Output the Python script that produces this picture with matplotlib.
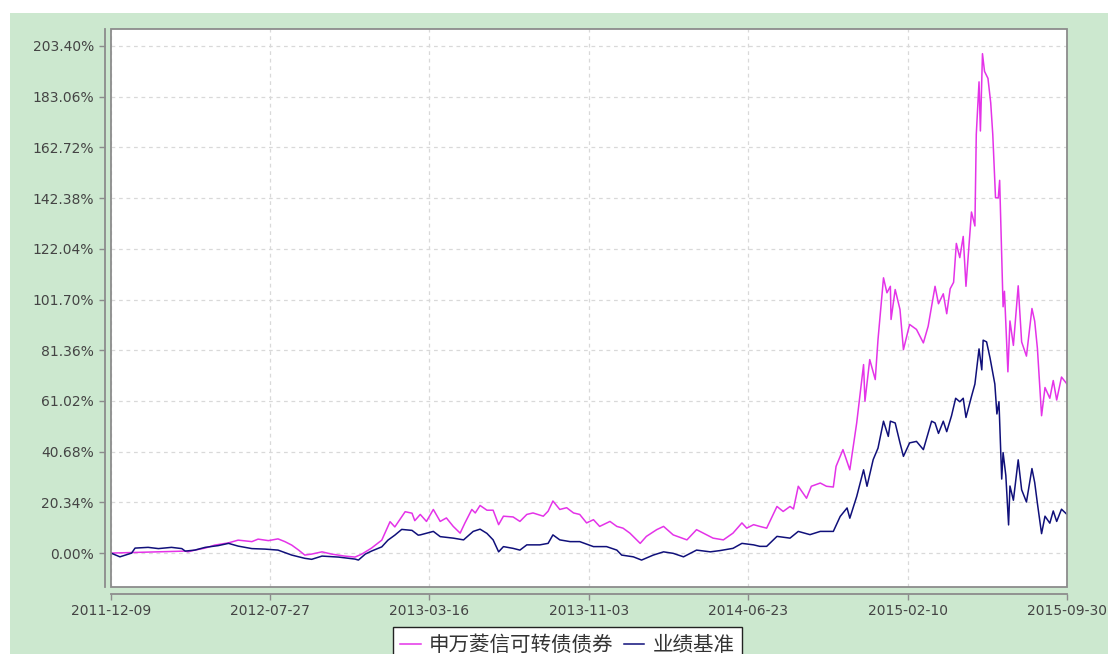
import numpy as np
import matplotlib.pyplot as plt
import matplotlib.dates as mdates
from matplotlib.patches import Rectangle

start = np.datetime64('2011-12-09')
end = np.datetime64('2015-09-30')

xtick_labels = ['2011-12-09', '2012-07-27', '2013-03-16', '2013-11-03',
                '2014-06-23', '2015-02-10', '2015-09-30']
ytick_vals = [0.00, 20.34, 40.68, 61.02, 81.36, 101.70,
              122.04, 142.38, 162.72, 183.06, 203.40]

series_names = ['申万菱信可转债债券', '业绩基准']

# fund: days after 2011-12-09, cumulative return (%)
fund_days = [0, 108, 112, 122, 137, 151, 171, 185, 205, 214, 229, 243, 253, 263, 273,
             282, 292, 307, 321, 340, 355, 365, 379, 394, 406, 413, 428, 438, 442,
             450, 459, 469, 479, 488, 498, 508, 515, 525, 530, 537, 547, 556, 564,
             571, 585, 595, 605, 614, 629, 636, 643, 653, 663, 673, 682, 692, 702,
             711, 726, 736, 745, 755, 770, 779, 794, 804, 818, 838, 852, 867, 876,
             891, 905, 918, 925, 935, 944, 954, 969, 978, 988, 993, 1000, 1012, 1019,
             1032, 1041, 1051, 1055, 1065, 1075, 1085, 1095, 1097, 1104, 1112, 1116,
             1124, 1129, 1134, 1135, 1141, 1148, 1153, 1162, 1172, 1182, 1189, 1199,
             1204, 1211, 1216, 1221, 1226, 1230, 1235, 1240, 1244, 1247, 1252, 1257,
             1259, 1263, 1265, 1268, 1271, 1276, 1280, 1283, 1287, 1291, 1293, 1296,
             1298, 1300, 1305, 1308, 1313, 1320, 1325, 1332, 1340, 1344, 1348, 1354,
             1359, 1366, 1371, 1376, 1383, 1391]
fund_vals = [0.0, 0.8, 0.5, 1.2, 2.0, 3.2, 4.1, 5.2, 4.6, 5.6, 5.0, 5.7, 4.6, 3.2, 1.2,
             -0.8, -0.4, 0.5, -0.4, -1.2, -1.6, -0.4, 2.0, 5.2, 12.6, 10.5, 16.6, 16.0, 13.0,
             15.5, 12.7, 17.5, 12.7, 14.1, 10.7, 8.0, 12.1, 17.5, 16.1, 19.1, 17.2, 17.2, 11.4,
             14.8, 14.5, 12.7, 15.5, 16.1, 14.8, 16.8, 20.9, 17.5, 18.2, 16.1, 15.5, 12.1, 13.4,
             10.7, 12.7, 10.7, 10.0, 8.0, 3.9, 6.7, 9.4, 10.7, 7.3, 5.3, 9.4, 7.3, 6.0,
             5.3, 8.0, 12.1, 10.0, 11.4, 10.7, 10.0, 18.7, 16.7, 18.7, 17.7, 26.8, 22.0, 26.8,
             28.1, 26.8, 26.5, 34.8, 41.5, 33.4, 52.2, 75.6, 60.9, 77.6, 69.6, 85.6,
             110.4, 104.4, 107.0, 93.7, 105.7, 97.7, 81.6, 91.7, 89.7, 84.3, 91.0, 107.0,
             100.0, 104.0, 96.0, 106.0, 108.6, 124.2, 118.5, 127.0, 107.0, 118.0, 136.8, 131.2,
             167.9, 189.0, 169.3, 200.3, 193.2, 190.4, 180.6, 167.9, 142.5, 142.5, 149.5, 120.0,
             98.8, 105.0, 72.7, 93.1, 83.3, 107.2, 84.7, 79.0, 98.1, 93.0, 81.9, 55.1,
             66.4, 62.1, 69.2, 61.4, 70.6, 67.8]

# benchmark
bench_days = [0, 13, 30, 35, 54, 69, 88, 103, 108, 122, 137, 156, 171, 185, 205, 224,
              243, 263, 282, 292, 307, 331, 355, 360, 370, 379, 394, 403, 413, 423, 438,
              447, 450, 469, 479, 498, 513, 527, 537, 547, 556, 564, 571, 585, 595, 605,
              624, 636, 643, 653, 668, 682, 702, 721, 736, 743, 760, 772, 789, 804, 818,
              833, 852, 872, 886, 905, 918, 935, 944, 954, 969, 988, 1000, 1017, 1032,
              1051, 1061, 1071, 1075, 1085, 1095, 1100, 1109, 1116, 1124, 1131, 1134,
              1141, 1148, 1153, 1162, 1172, 1182, 1194, 1199, 1204, 1211, 1216, 1223,
              1229, 1235, 1240, 1244, 1252, 1257, 1263, 1267, 1269, 1274, 1279, 1286,
              1289, 1292, 1296, 1298, 1302, 1306, 1308, 1313, 1320, 1325, 1332, 1340,
              1344, 1348, 1354, 1359, 1366, 1371, 1376, 1383, 1391]
bench_vals = [0.0, -1.5, 0.0, 2.0, 2.3, 1.8, 2.3, 1.8, 0.8, 1.2, 2.3, 3.0, 3.9, 2.8, 1.8, 1.6,
              1.2, -0.8, -2.1, -2.5, -1.2, -1.6, -2.4, -2.8, -0.4, 0.8, 2.5, 5.2, 7.2, 9.5, 9.1,
              7.2, 7.3, 8.7, 6.6, 6.0, 5.3, 8.7, 9.6, 7.9, 5.3, 0.5, 2.6, 1.9, 1.2, 3.3,
              3.3, 3.9, 7.3, 5.3, 4.6, 4.6, 2.6, 2.6, 1.2, -0.8, -1.5, -2.8, -0.8, 0.5, -0.1,
              -1.5, 1.2, 0.5, 1.0, 1.9, 3.9, 3.3, 2.7, 2.7, 6.7, 6.0, 8.7, 7.4, 8.7,
              8.7, 14.7, 18.1, 14.0, 22.7, 33.4, 26.8, 37.5, 42.1, 52.9, 46.8, 52.9,
              52.2, 44.2, 38.8, 44.2, 44.8, 41.5, 52.9, 52.2, 48.0, 52.9, 48.7, 55.1,
              62.1, 60.7, 62.1, 54.4, 62.8, 67.8, 81.9, 73.5, 85.4, 84.7, 78.3, 67.8,
              55.8, 60.7, 29.7, 40.3, 31.1, 11.3, 26.9, 21.2, 37.4, 25.4, 20.5, 33.9,
              28.3, 19.8, 7.8, 14.8, 12.0, 16.9, 12.7, 17.6, 15.5]

fund_dates = start + np.array(fund_days, dtype='timedelta64[D]')
bench_dates = start + np.array(bench_days, dtype='timedelta64[D]')

W, H = 1108, 654
fig = plt.figure(figsize=(W / 100, H / 100), dpi=100)
fig.patch.set_facecolor('white')
fig.patches.append(Rectangle((10 / W, 0), 1, 1 - 13 / H, transform=fig.transFigure,
                             facecolor='#cce8cf', edgecolor='none', zorder=-10))

ax = fig.add_axes([111 / W, 1 - 587 / H, 956 / W, 558 / H])
ax.set_facecolor('white')

ax.plot(fund_dates, fund_vals, color='#e433e8', lw=1.1, label=series_names[0], zorder=3)
ax.plot(bench_dates, bench_vals, color='#10107a', lw=1.1, label=series_names[1], zorder=4)

ax.set_xlim(start, end)
ax.set_ylim(-13.6, 210.2)

ax.set_xticks([np.datetime64(d) for d in xtick_labels])
ax.xaxis.set_major_formatter(mdates.DateFormatter('%Y-%m-%d'))
ax.set_yticks(ytick_vals)
ax.set_yticklabels([f'{v:.2f}%' for v in ytick_vals])

ax.grid(True, color='#d9d9d9', linestyle=(0, (3, 3)), lw=0.9)
ax.set_axisbelow(True)

# offset axis lines + plot frame
for s in ['top', 'right']:
    ax.spines[s].set_visible(False)
ax.spines['left'].set_position(('outward', 4.3))
ax.spines['bottom'].set_position(('outward', 5))
for s in ['left', 'bottom']:
    ax.spines[s].set_color('#8c8c8c')
    ax.spines[s].set_linewidth(1.3)
ax.add_patch(Rectangle((0, 0), 1, 1, transform=ax.transAxes, fill=False,
                       edgecolor='#8c8c8c', lw=1.3, clip_on=False, zorder=5))

ax.tick_params(axis='both', colors='#8c8c8c', labelcolor='#444444',
               labelsize=10, length=4, width=1)
ax.tick_params(axis='y', pad=4)
ax.tick_params(axis='x', pad=3)

leg = ax.legend(loc='upper left', bbox_to_anchor=(393 / W, 1 - 627 / H),
                bbox_transform=fig.transFigure, ncol=2, frameon=True, fancybox=False,
                framealpha=1, facecolor='white',
                prop={'family': ['Noto Sans CJK SC', 'DejaVu Sans'], 'size': 14.8},
                handlelength=1.0, handletextpad=0.4, columnspacing=0.5,
                borderpad=0.35, borderaxespad=0)
leg.get_frame().set_edgecolor('#222222')
leg.get_frame().set_linewidth(1.0)
for t in leg.get_texts():
    t.set_color('#333333')

fig.savefig('out.png', dpi=100)
